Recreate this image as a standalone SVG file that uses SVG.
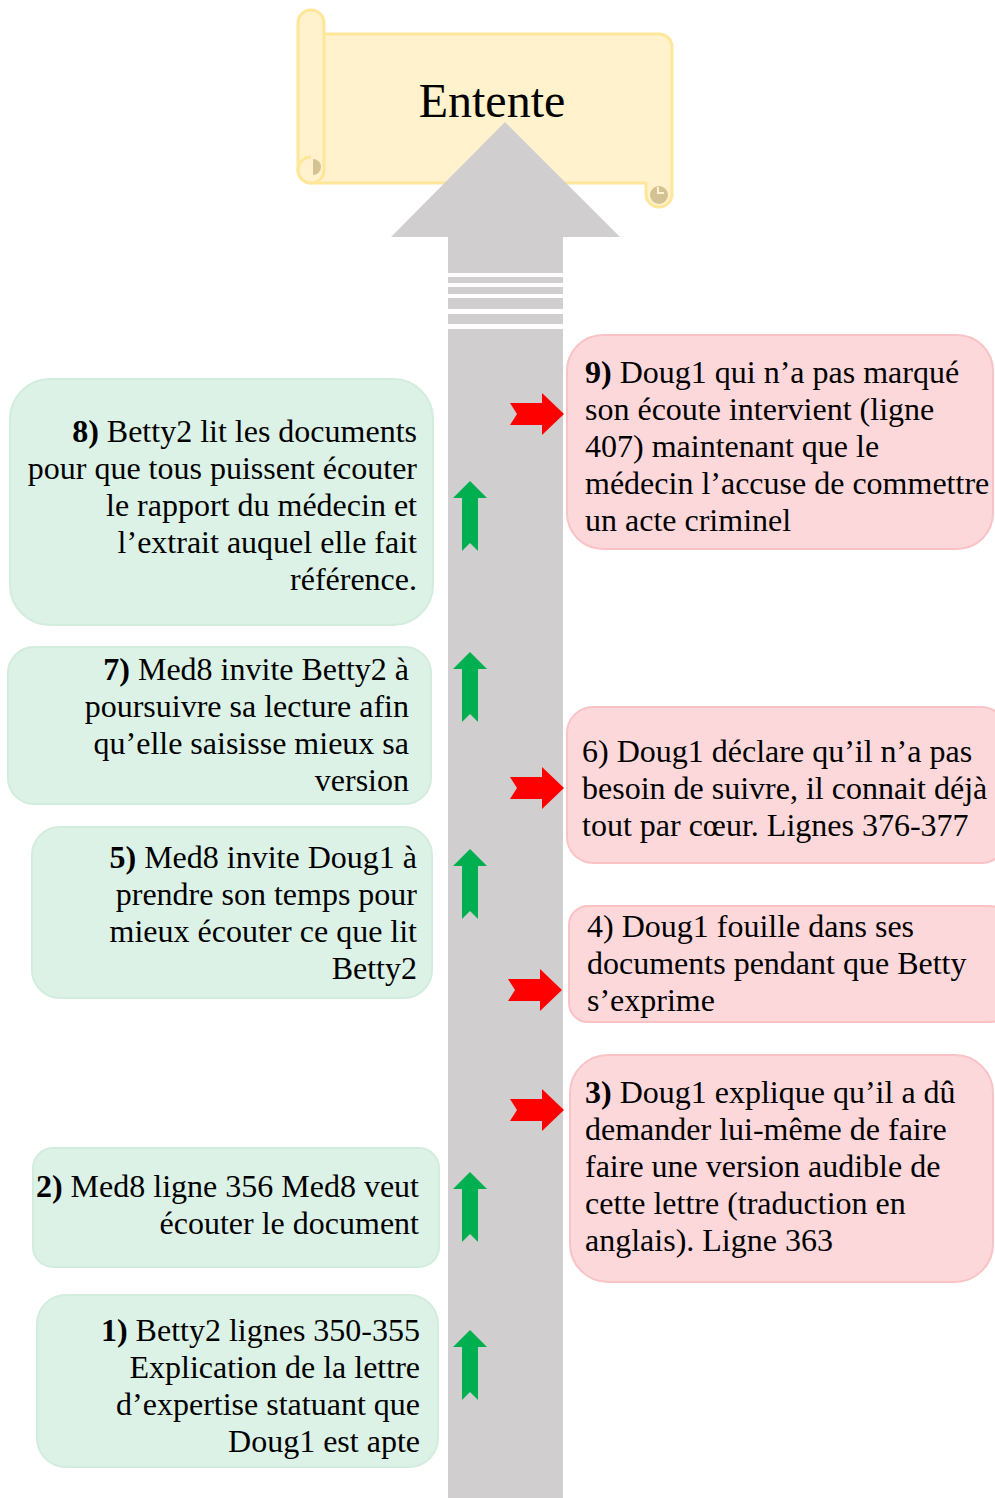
<svg xmlns="http://www.w3.org/2000/svg" width="995" height="1498" viewBox="0 0 995 1498">
  <style>
    .t { font-family: "Liberation Serif", "Times New Roman", serif; font-size: 32px; fill: #000; }
    .title { font-size: 48px; text-anchor: middle; }
    .r { text-anchor: end; }
    .b { font-weight: bold; }
    .g { fill: #DDF2E6; stroke: #D2ECDD; stroke-width: 2; }
    .p { fill: #FDD8DA; stroke: #F9C3C6; stroke-width: 2; }
    .scroll { fill: #FFF2CC; stroke: #FFE699; stroke-width: 3; stroke-linejoin: round; }
    .curl { fill: #D3C394; }
  </style>
  <defs>
    <path id="up" d="M0,0 L17,17 L8,17 L8,70 L0,62 L-8,70 L-8,17 L-17,17 Z" fill="#00B050"/>
    <path id="right" d="M0,-11 L32,-11 L32,-21 L54,0 L32,21 L32,11 L0,11 L7,0 Z" fill="#FF0000"/>
  </defs>

  <!-- title scroll -->
  <g id="scroll-entente">
    <path class="scroll" d="M324,34 H659 A13,13 0 0 1 672,47 V194 A13,13 0 0 1 646,194 V183 H311"/>
    <path class="scroll" d="M311,183 A13,13 0 0 1 298,170 V23 A13,13 0 0 1 324,23 V170 A13,13 0 0 1 311,183 Z"/>
    <path class="curl" d="M313,159 A8,8 0 0 1 313,175 Z"/>
    <path d="M311,157 A13,13 0 0 0 311,183" fill="none" stroke="#FFE699" stroke-width="3"/>
    <circle cx="659" cy="195" r="9" class="curl"/>
    <path d="M658,187 V193 H664" fill="none" stroke="#FFF2CC" stroke-width="2"/>
    <text class="t title" x="492" y="117">Entente</text>
  </g>

  <!-- central timeline arrow -->
  <g id="timeline" fill="#D0CECE">
    <polygon points="505,122 620,237 563,237 563,273 448,273 448,237 391,237"/>
    <rect x="448" y="277" width="115" height="6"/>
    <rect x="448" y="287" width="115" height="7"/>
    <rect x="448" y="298" width="115" height="11"/>
    <rect x="448" y="314" width="115" height="10"/>
    <rect x="448" y="329" width="115" height="1169"/>
  </g>

  <!-- green (left) steps -->
  <g id="step8">
    <rect class="g" x="10" y="379" width="423" height="246" rx="40"/>
    <text class="t r"><tspan x="417" y="442"><tspan class="b">8)</tspan> Betty2 lit les documents</tspan><tspan x="417" y="479">pour que tous puissent écouter</tspan><tspan x="417" y="516">le rapport du médecin et</tspan><tspan x="417" y="553">l’extrait auquel elle fait</tspan><tspan x="417" y="590">référence.</tspan></text>
  </g>
  <g id="step7">
    <rect class="g" x="8" y="647" width="423" height="157" rx="26"/>
    <text class="t r"><tspan x="409" y="680"><tspan class="b">7)</tspan> Med8 invite Betty2 à</tspan><tspan x="409" y="717">poursuivre sa lecture afin</tspan><tspan x="409" y="754">qu’elle saisisse mieux sa</tspan><tspan x="409" y="791">version</tspan></text>
  </g>
  <g id="step5">
    <rect class="g" x="32" y="827" width="400" height="171" rx="28"/>
    <text class="t r"><tspan x="417" y="868"><tspan class="b">5)</tspan> Med8 invite Doug1 à</tspan><tspan x="417" y="905">prendre son temps pour</tspan><tspan x="417" y="942">mieux écouter ce que lit</tspan><tspan x="417" y="979">Betty2</tspan></text>
  </g>
  <g id="step2">
    <rect class="g" x="33" y="1148" width="406" height="119" rx="20"/>
    <text class="t r"><tspan x="419" y="1197"><tspan class="b">2)</tspan> Med8 ligne 356 Med8 veut</tspan><tspan x="419" y="1234">écouter le document</tspan></text>
  </g>
  <g id="step1">
    <rect class="g" x="37" y="1295" width="401" height="172" rx="29"/>
    <text class="t r"><tspan x="420" y="1341"><tspan class="b">1)</tspan> Betty2 lignes 350-355</tspan><tspan x="420" y="1378">Explication de la lettre</tspan><tspan x="420" y="1415">d’expertise statuant que</tspan><tspan x="420" y="1452">Doug1 est apte</tspan></text>
  </g>

  <!-- pink (right) steps -->
  <g id="step9">
    <rect class="p" x="567" y="335" width="426" height="214" rx="36"/>
    <text class="t"><tspan x="585" y="383"><tspan class="b">9)</tspan> Doug1 qui n’a pas marqué</tspan><tspan x="585" y="420">son écoute intervient (ligne</tspan><tspan x="585" y="457">407) maintenant que le</tspan><tspan x="585" y="494">médecin l’accuse de commettre</tspan><tspan x="585" y="531">un acte criminel</tspan></text>
  </g>
  <g id="step6">
    <rect class="p" x="567" y="707" width="440" height="156" rx="26"/>
    <text class="t"><tspan x="582" y="762">6) Doug1 déclare qu’il n’a pas</tspan><tspan x="582" y="799">besoin de suivre, il connait déjà</tspan><tspan x="582" y="836">tout par cœur. Lignes 376-377</tspan></text>
  </g>
  <g id="step4">
    <rect class="p" x="569" y="906" width="440" height="116" rx="19"/>
    <text class="t"><tspan x="587" y="937">4) Doug1 fouille dans ses</tspan><tspan x="587" y="974">documents pendant que Betty</tspan><tspan x="587" y="1011">s’exprime</tspan></text>
  </g>
  <g id="step3">
    <rect class="p" x="570" y="1055" width="423" height="227" rx="38"/>
    <text class="t"><tspan x="585" y="1103"><tspan class="b">3)</tspan> Doug1 explique qu’il a dû</tspan><tspan x="585" y="1140">demander lui-même de faire</tspan><tspan x="585" y="1177">faire une version audible de</tspan><tspan x="585" y="1214">cette lettre (traduction en</tspan><tspan x="585" y="1251">anglais). Ligne 363</tspan></text>
  </g>

  <!-- connectors: progress arrows on the timeline -->
  <g id="connectors">
    <use href="#up" x="470" y="481"/>
    <use href="#up" x="470" y="652"/>
    <use href="#up" x="470" y="849"/>
    <use href="#up" x="470" y="1172"/>
    <use href="#up" x="470" y="1330"/>
    <use href="#right" x="510" y="414"/>
    <use href="#right" x="510" y="788"/>
    <use href="#right" x="508" y="990"/>
    <use href="#right" x="510" y="1110"/>
  </g>
</svg>
